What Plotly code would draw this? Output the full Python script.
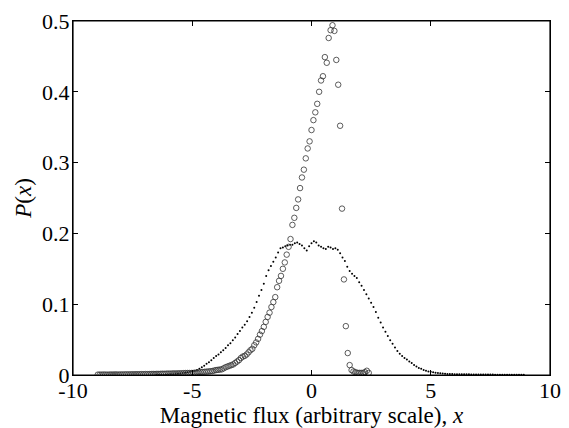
import numpy as np
import plotly.graph_objects as go

# open circles: narrow distribution, grid starts at -8.96, step 0.08
circle_x0 = -8.96
circle_dx = 0.08
circle_y = [
    0.0005,
    0.0006, 0.0005, 0.0007, 0.0006, 0.0005, 0.0006, 0.0007, 0.0006, 0.0008, 0.0007,
    0.0006, 0.0008, 0.0007, 0.0008, 0.0009, 0.0008, 0.0009, 0.0010, 0.0009, 0.0011,
    0.0010, 0.0011, 0.0012, 0.0011, 0.0013, 0.0012, 0.0013, 0.0014, 0.0015, 0.0014,
    0.0016, 0.0015, 0.0017, 0.0018, 0.0017, 0.0019, 0.0020, 0.0019, 0.0021, 0.0022,
    0.0021, 0.0023,
    0.0023, 0.0024, 0.0026, 0.0027, 0.0028, 0.0028, 0.0028, 0.0029, 0.0031, 0.0034,
    0.0037, 0.0040, 0.0042, 0.0045, 0.0047, 0.0050, 0.0053, 0.0056, 0.0063, 0.0070,
    0.0073, 0.0077, 0.0080, 0.0095, 0.011, 0.012, 0.013, 0.014, 0.015, 0.017,
    0.019, 0.021, 0.024, 0.026, 0.027, 0.029, 0.032, 0.035, 0.037, 0.042,
    0.046, 0.051, 0.057, 0.062, 0.068, 0.075, 0.082, 0.088, 0.096, 0.103,
    0.110, 0.124, 0.133, 0.140, 0.150, 0.159, 0.170, 0.181, 0.192, 0.212,
    0.222, 0.236, 0.248, 0.264, 0.279, 0.290, 0.306, 0.320, 0.330, 0.346,
    0.360, 0.371, 0.383, 0.400, 0.416, 0.422, 0.449, 0.441, 0.476, 0.487,
    0.494, 0.486, 0.445, 0.410, 0.352, 0.235, 0.135, 0.069, 0.031, 0.014,
    0.007, 0.005, 0.004, 0.003, 0.003, 0.003, 0.003, 0.004, 0.006, 0.003,
]
circle_x = np.round(circle_x0 + circle_dx * np.arange(len(circle_y)), 2)

# small dots: broad distribution, grid starts at -6.5, step 0.1
dot_x0 = -6.5
dot_dx = 0.1
dot_y = [
    0.0003, 0.0003, 0.0004, 0.0005, 0.0006, 0.0007, 0.0009, 0.0011, 0.0014, 0.0018,
    0.0022, 0.0027, 0.0033, 0.0039, 0.0046, 0.0054, 0.006, 0.007, 0.009, 0.011,
    0.013, 0.016, 0.018, 0.021, 0.024, 0.027, 0.029, 0.032, 0.035, 0.038,
    0.042, 0.045, 0.049, 0.053, 0.058, 0.062, 0.067, 0.071, 0.076, 0.082,
    0.088, 0.095, 0.103, 0.112, 0.120, 0.129, 0.140, 0.148, 0.154, 0.160,
    0.166, 0.173, 0.179, 0.180, 0.182, 0.183, 0.184, 0.184, 0.186, 0.187,
    0.185, 0.183, 0.179, 0.176, 0.182, 0.186, 0.189, 0.187, 0.183, 0.181,
    0.179, 0.178, 0.181, 0.180, 0.178, 0.179, 0.177, 0.172, 0.166, 0.161,
    0.153, 0.147, 0.143, 0.140, 0.137, 0.131, 0.126, 0.120, 0.114, 0.108,
    0.102, 0.096, 0.089, 0.081, 0.074, 0.067, 0.061, 0.055, 0.049, 0.044,
    0.039, 0.034, 0.030, 0.027, 0.024, 0.022, 0.019, 0.017, 0.014, 0.012,
    0.010, 0.009, 0.007, 0.006, 0.005, 0.0045, 0.004, 0.0033, 0.0028, 0.0024,
    0.0021, 0.0018, 0.0015, 0.0014, 0.0013, 0.0012, 0.0011, 0.0011, 0.0010, 0.0010,
    0.0009, 0.0009, 0.0008, 0.0008, 0.0008, 0.0007, 0.0007, 0.0007, 0.0006, 0.0006,
    0.0006, 0.0006, 0.0005, 0.0005, 0.0005, 0.0005, 0.0005, 0.0004, 0.0004, 0.0004,
    0.0004, 0.0004, 0.0004, 0.0004, 0.0004,
]
dot_x = np.round(dot_x0 + dot_dx * np.arange(len(dot_y)), 2)

x_ticks = [-10, -5, 0, 5, 10]
y_ticks = [0, 0.1, 0.2, 0.3, 0.4, 0.5]
y_tick_text = ["0", "0.1", "0.2", "0.3", "0.4", "0.5"]

fig = go.Figure()
fig.add_trace(go.Scatter(x=dot_x, y=dot_y, mode="markers",
                         marker=dict(symbol="circle", size=2, color="black", line=dict(width=0)),
                         showlegend=False))
fig.add_trace(go.Scatter(x=circle_x, y=circle_y, mode="markers",
                         marker=dict(symbol="circle-open", size=5.5, color="#333333",
                                     line=dict(width=0.8, color="#333333")),
                         showlegend=False))

font = dict(family="Liberation Serif", size=22, color="black")
title_font = dict(family="Liberation Serif", size=23, color="black")
axis_common = dict(showline=True, mirror="ticks", linecolor="black", linewidth=1,
                   ticks="inside", ticklen=5, tickcolor="black", showgrid=False,
                   zeroline=False, tickfont=font, automargin=False,
                   ticklabeloverflow="allow")

# frame around the plot area
fig.add_shape(type="rect", xref="paper", yref="paper", x0=0, x1=1, y0=0, y1=1,
              line=dict(color="black", width=1.2), layer="above")

# page body has an 8px margin, so the figure is a bit smaller than the window
fig.update_layout(
    width=561, height=420,
    margin=dict(l=65, r=19, t=13, b=53),
    plot_bgcolor="white", paper_bgcolor="white",
    font=font,
    xaxis=dict(range=[-10, 10], tickvals=x_ticks, ticktext=[str(v) for v in x_ticks],
               ticklabelstandoff=-4,
               title=dict(text="Magnetic flux (arbitrary scale), <i>x</i>", font=title_font, standoff=0),
               **axis_common),
    yaxis=dict(range=[0, 0.5], tickvals=y_ticks, ticktext=y_tick_text,
               ticklabelstandoff=-2,
               title=dict(text="<i>P</i>(<i>x</i>)", font=title_font, standoff=4),
               **axis_common),
)

fig.write_html("out.html", config={"displayModeBar": False})
